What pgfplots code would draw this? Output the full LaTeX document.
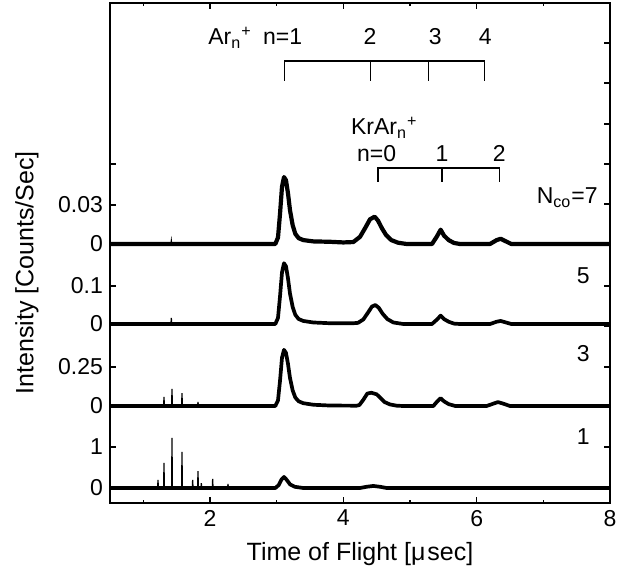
\documentclass[border=0pt]{standalone}
\usepackage{pgfplots}
\pgfplotsset{compat=1.18}
\usepackage{pgfplotstable}
\usepackage{fontspec}
\setmainfont{Liberation Sans}

% Raw intensities (Counts/Sec) of each trace
\pgfplotstableread{
x v
0.50 0
2.98 0
3.02 0.005
3.05 0.023
3.08 0.044
3.11 0.0515
3.14 0.049
3.17 0.039
3.20 0.026
3.24 0.0145
3.28 0.0078
3.33 0.0045
3.40 0.003
3.55 0.002
3.80 0.0017
4.00 0.0012
4.15 0.0015
4.25 0.0055
4.33 0.0125
4.40 0.019
4.47 0.021
4.52 0.018
4.58 0.012
4.64 0.007
4.72 0.003
4.82 0.001
4.95 0
5.33 0
5.40 0.0055
5.46 0.011
5.51 0.0065
5.58 0.003
5.66 0.0008
5.75 0
6.20 0
6.30 0.003
6.36 0.004
6.42 0.0025
6.52 0
8.00 0
}\tracesseven

\pgfplotstableread{
x v
0.50 0
2.98 0
3.02 0.016
3.05 0.072
3.08 0.136
3.11 0.16
3.14 0.152
3.17 0.12
3.20 0.08
3.24 0.045
3.28 0.024
3.33 0.013
3.40 0.008
3.55 0.004
3.80 0.002
4.15 0.002
4.22 0.003
4.30 0.012
4.37 0.03
4.43 0.046
4.48 0.05
4.53 0.043
4.59 0.027
4.66 0.013
4.75 0.004
4.90 0
5.33 0
5.40 0.011
5.46 0.022
5.51 0.013
5.58 0.006
5.66 0.001
5.75 0
6.20 0
6.30 0.006
6.36 0.008
6.42 0.005
6.52 0
8.00 0
}\tracefive

\pgfplotstableread{
x v
0.50 0
2.98 0
3.02 0.036
3.05 0.16
3.08 0.31
3.11 0.36
3.14 0.34
3.17 0.27
3.20 0.18
3.24 0.10
3.28 0.054
3.33 0.03
3.40 0.018
3.55 0.008
3.80 0.003
4.20 0.002
4.24 0.006
4.30 0.04
4.36 0.08
4.42 0.085
4.50 0.075
4.56 0.05
4.62 0.025
4.70 0.01
4.80 0.002
4.90 0
5.35 0
5.41 0.03
5.46 0.05
5.51 0.03
5.58 0.012
5.68 0
6.15 0
6.25 0.015
6.32 0.025
6.40 0.015
6.50 0
8.00 0
}\tracethree

\pgfplotstableread{
x v
0.50 0
2.98 0
3.03 0.07
3.07 0.2
3.11 0.27
3.15 0.2
3.20 0.09
3.27 0.03
3.40 0
4.25 0
4.35 0.03
4.45 0.05
4.55 0.03
4.65 0
8.00 0
}\traceone

% Narrow spikes
\pgfplotstableread{
x v
1.100 0
1.414 0
1.420 0.0025
1.426 0
1.600 0
}\spikesseven

\pgfplotstableread{
x v
1.100 0
1.414 0
1.420 0.016
1.426 0
1.600 0
}\spikesfive

\pgfplotstableread{
x v
1.100 0
1.304 0
1.310 0.058
1.316 0
1.424 0
1.430 0.11
1.436 0
1.574 0
1.580 0.083
1.586 0
1.814 0
1.820 0.026
1.826 0
2.000 0
}\spikesthree

\pgfplotstableread{
x v
1.100 0
1.214 0
1.220 0.2
1.226 0
1.304 0
1.310 0.61
1.316 0
1.424 0
1.430 1.22
1.436 0
1.574 0
1.580 0.88
1.586 0
1.734 0
1.740 0.2
1.746 0
1.814 0
1.820 0.41
1.826 0
1.864 0
1.870 0.12
1.876 0
2.034 0
2.040 0.22
2.046 0
2.264 0
2.270 0.1
2.276 0
2.400 0
}\spikesone

\begin{document}
\begin{tikzpicture}
\path[use as bounding box] (-55pt,-38pt) rectangle (264.5pt,251.5pt);
\begin{axis}[
  scale only axis, width=250pt, height=250pt,
  xmin=0.5, xmax=8, ymin=0, ymax=500,
  xtick={2,4,6,8}, minor xtick={1,3,5,7},
  ytick={15,56,97,136,179,217,259,298,339},
  yticklabels={0,1,0,0.25,0,0.1,0,0.03,{}},
  ytick pos=left,
  major tick length=3pt, minor tick length=1.5pt,
  every tick/.style={black, line width=0.6pt},
  axis line style={line width=0.6pt},
  tick label style={font=\fontsize{11.5}{13}\selectfont},
  /pgf/number format/assume math mode=true,
  xlabel={Time of Flight [μ\kern1pt sec]},
  ylabel={Intensity [Counts/Sec]},
  label style={font=\fontsize{12.5}{14}\selectfont},
  xlabel style={at={(axis description cs:0.5,-0.116)}, anchor=base},
  ylabel style={at={(axis description cs:-0.1532,0.46)}, anchor=base},
  clip=false,
]
\addplot[black, line width=2.1pt, line join=round] table[x=x, y expr=259+1300*\thisrow{v}] {\tracesseven};
\addplot[black, line width=0.6pt] table[x=x, y expr=259+1300*\thisrow{v}] {\spikesseven};
\addplot[black, line width=1.85pt, line join=round] table[x=x, y expr=179+380*\thisrow{v}] {\tracefive};
\addplot[black, line width=0.6pt] table[x=x, y expr=179+380*\thisrow{v}] {\spikesfive};
\addplot[black, line width=1.85pt, line join=round] table[x=x, y expr=97+156*\thisrow{v}] {\tracethree};
\addplot[black, line width=0.6pt] table[x=x, y expr=97+156*\thisrow{v}] {\spikesthree};
\addplot[black, line width=1.85pt, line join=round] table[x=x, y expr=15+41*\thisrow{v}] {\traceone};
\addplot[black, line width=0.6pt] table[x=x, y expr=15+41*\thisrow{v}] {\spikesone};

% Ar_n^+ bracket
\draw[line width=0.6pt] (3.12,422) -- (3.12,442) -- (6.12,442) -- (6.12,422);
\draw[line width=0.6pt] (4.41,442) -- (4.41,422);
\draw[line width=0.6pt] (5.28,442) -- (5.28,422);
\begin{scope}[every node/.style={font=\fontsize{11.5}{13}\selectfont, inner sep=0pt}]
\node[anchor=base west] at (1.97,458) {Ar\textsubscript{n}\textsuperscript{+}};
\node[anchor=base] at (3.09,458) {n=1};
\node[anchor=base] at (4.40,458) {2};
\node[anchor=base] at (5.38,458) {3};
\node[anchor=base] at (6.13,458) {4};
% KrAr_n^+ bracket
\node[anchor=base west] at (4.11,368) {KrAr\textsubscript{n}\textsuperscript{+}};
\node[anchor=base] at (4.50,341) {n=0};
\node[anchor=base] at (5.48,341) {1};
\node[anchor=base] at (6.34,341) {2};
% N_co labels
\node[anchor=base east] at (7.82,299) {N\textsubscript{co}=7};
\node[anchor=base east] at (7.70,220) {5};
\node[anchor=base east] at (7.70,141) {3};
\node[anchor=base east] at (7.70,58) {1};
\end{scope}
\draw[line width=0.6pt] (4.52,321) -- (4.52,335) -- (6.34,335) -- (6.34,321);
\draw[line width=0.6pt] (5.48,335) -- (5.48,321);
\end{axis}
\begin{axis}[
  scale only axis, width=250pt, height=250pt,
  xmin=0.5, xmax=8, ymin=0, ymax=500,
  axis line style={draw=none},
  xtick=\empty,
  ytick={15,56,96,136,177,217,258,299,339,379,420,460},
  yticklabels={},
  ytick pos=right,
  major tick length=3pt,
  every tick/.style={black, line width=0.6pt},
]
\end{axis}
\end{tikzpicture}
\end{document}
